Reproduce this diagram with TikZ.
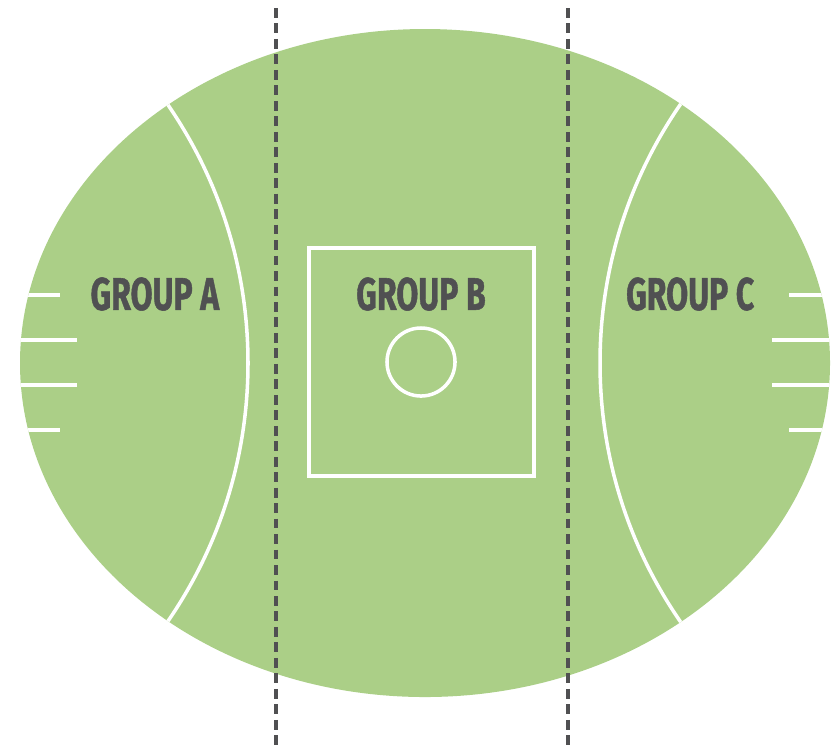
\documentclass[tikz,border=0pt]{standalone}
\usepackage{fontspec}
\setmainfont{Fira Sans}
\newfontfamily\groupfont{Fira Sans}[BoldFeatures={FakeBold=1.2}]
\usetikzlibrary{positioning}
\definecolor{pitch}{HTML}{ABCF87}
\definecolor{ink}{HTML}{505052}

\begin{document}
\begin{tikzpicture}[x=0.01cm, y=-0.01cm]
		\tikzstyle{field} = [fill=pitch, draw=none]
		\tikzstyle{whiteline} = [draw=white, line width=1pt]
		\tikzstyle{divide} = [draw=ink, line width=1.05pt, dash pattern=on 2.8pt off 1.6pt]
		\tikzstyle{group} = [text=ink, font=\groupfont\fontsize{13}{13}\selectfont\bfseries, xscale=0.7, inner sep=0pt]
		
		\useasboundingbox (0,0) rectangle (834,750);
		
		% the oval
		\path [field] (425,363) ellipse [x radius=405, y radius=334];
		\begin{scope}
			\clip (425,363) ellipse [x radius=405, y radius=334];
			\path [whiteline] (-208,363) circle [radius=456];
			\path [whiteline] (1056,363) circle [radius=456];
			\path [whiteline] (0,295) -- (60,295) (0,340) -- (77,340) (0,385) -- (77,385) (0,430) -- (60,430);
			\path [whiteline] (834,295) -- (789,295) (834,340) -- (772,340) (834,385) -- (772,385) (834,430) -- (789,430);
		\end{scope}
		
		% centre square and circle
		\node [whiteline, minimum width=2.25cm, minimum height=2.28cm, inner sep=0pt] (square) at (421.5,362) {};
		\node [whiteline, circle, minimum size=0.68cm, inner sep=0pt] (centre) at (421,362) {};
		
		\node [group] (groupB) at (421,294) {GROUP B};
		\node [group, left=2.66cm of groupB.center, anchor=center] (groupA) {GROUP A};
		\node [group, right=2.69cm of groupB.center, anchor=center] (groupC) {GROUP C};
		
		% dividers
		\coordinate (d1top) at (276,8);
		\coordinate (d1bot) at (276,748);
		\coordinate (d2top) at (568,8);
		\coordinate (d2bot) at (568,748);
		\path [divide] (d1top) -- (d1bot);
		\path [divide] (d2top) -- (d2bot);
	\end{tikzpicture}
\end{document}
